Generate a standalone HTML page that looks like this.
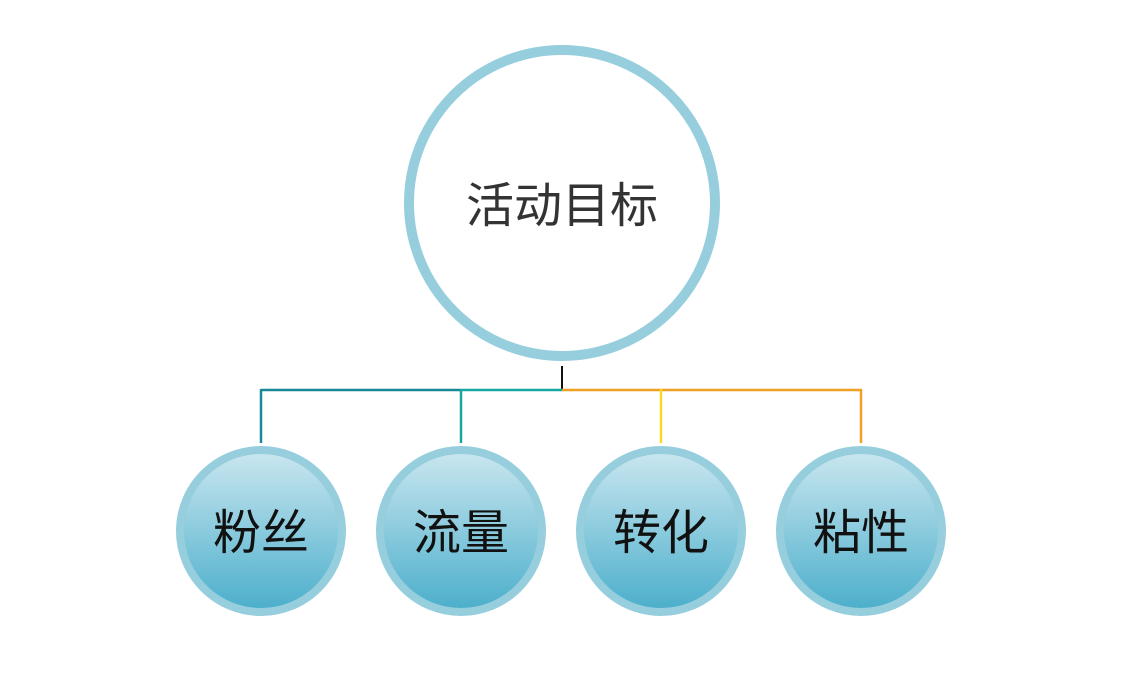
<!DOCTYPE html>
<html><head><meta charset="utf-8"><style>
body{margin:0;width:1138px;height:687px;background:#fff;overflow:hidden}
svg text{font-family:"Liberation Sans","Noto Sans CJK SC",sans-serif}
</style></head><body>
<svg width="1138" height="687" viewBox="0 0 1138 687">
<defs>
<linearGradient id="g" x1="0" y1="0" x2="0" y2="1">
<stop offset="0" stop-color="#cbe7f0"/>
<stop offset="1" stop-color="#4aaecb"/>
</linearGradient>
</defs>
<circle cx="562" cy="203" r="153" fill="#fff" stroke="#96cede" stroke-width="10"/>
<text x="562" y="222" font-size="48" text-anchor="middle" fill="#333">活动目标</text>
<line x1="562" y1="366" x2="562" y2="391" stroke="#111" stroke-width="2"/>
<line x1="261" y1="390" x2="461" y2="390" stroke="#1b8898" stroke-width="2.5"/>
<line x1="461" y1="390" x2="562" y2="390" stroke="#17a7a0" stroke-width="2.5"/>
<line x1="562" y1="390" x2="862" y2="390" stroke="#f0a024" stroke-width="2.5"/>
<line x1="261" y1="389" x2="261" y2="443" stroke="#1b8898" stroke-width="2.5"/>
<line x1="461" y1="389" x2="461" y2="443" stroke="#17a7a0" stroke-width="2.5"/>
<line x1="661" y1="389" x2="661" y2="443" stroke="#f8d820" stroke-width="2.5"/>
<line x1="861" y1="389" x2="861" y2="443" stroke="#f0a024" stroke-width="2.5"/>
<g font-size="48" text-anchor="middle" fill="#111">
<circle cx="261" cy="531" r="81" fill="url(#g)" stroke="#96cede" stroke-width="8"/>
<text x="261" y="549">粉丝</text>
<circle cx="461" cy="531" r="81" fill="url(#g)" stroke="#96cede" stroke-width="8"/>
<text x="461" y="549">流量</text>
<circle cx="661" cy="531" r="81" fill="url(#g)" stroke="#96cede" stroke-width="8"/>
<text x="661" y="549">转化</text>
<circle cx="861" cy="531" r="81" fill="url(#g)" stroke="#96cede" stroke-width="8"/>
<text x="861" y="549">粘性</text>
</g>
</svg>
</body></html>
